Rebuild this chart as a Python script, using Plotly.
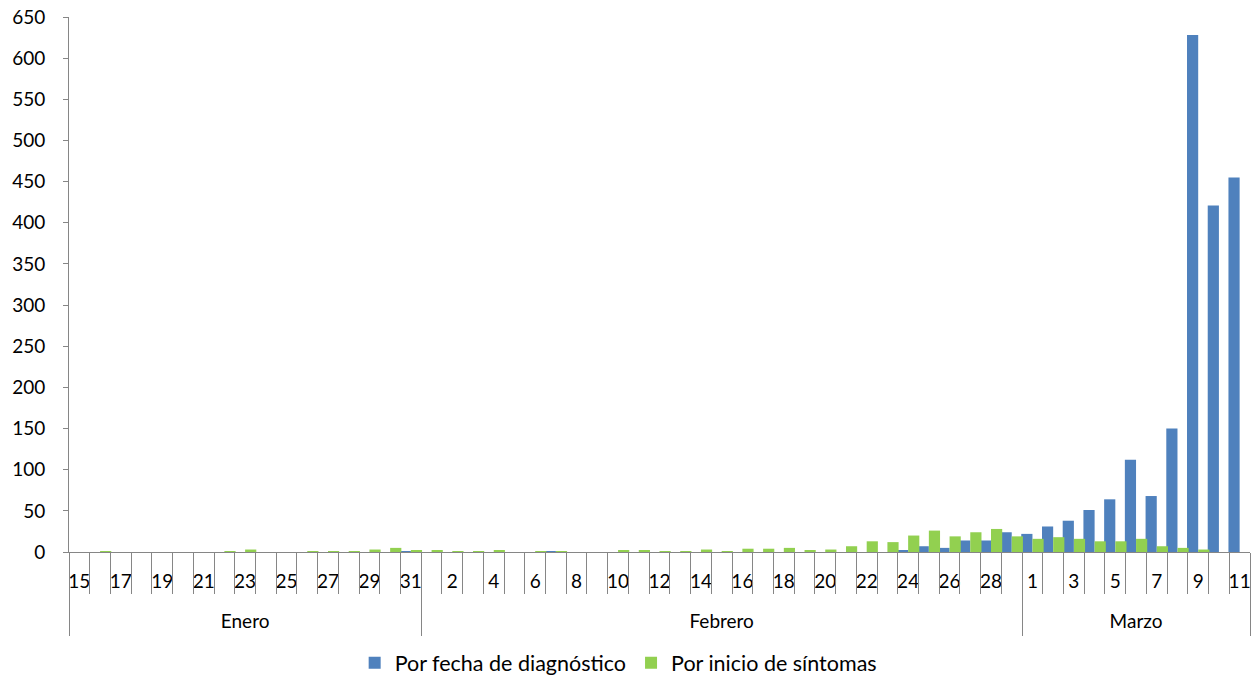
import plotly.graph_objects as go

# ---- data ----
meses = ["Enero", "Febrero", "Marzo"]
dias_enero = [15, 16, 17, 18, 19, 20, 21, 22, 23, 24, 25, 26, 27, 28, 29, 30, 31]
dias_febrero = [1, 2, 3, 4, 5, 6, 7, 8, 9, 10, 11, 12, 13, 14, 15, 16, 17, 18, 19, 20,
                21, 22, 23, 24, 25, 26, 27, 28, 29]
dias_marzo = [1, 2, 3, 4, 5, 6, 7, 8, 9, 10, 11]

# Por fecha de diagnóstico
diag_enero = [0, 0, 0, 0, 0, 0, 0, 0, 0, 0, 0, 0, 0, 0, 0, 0, 1]
diag_febrero = [0, 0, 0, 0, 0, 0, 1, 0, 0, 0, 0, 0, 0, 0, 0, 0, 0, 0, 0, 0,
                0, 0, 0, 2, 7, 5, 14, 14, 24]
diag_marzo = [22, 31, 38, 51, 64, 112, 68, 150, 628, 421, 455]

# Por inicio de síntomas
sint_enero = [0, 1, 0, 0, 0, 0, 0, 1, 3, 0, 0, 1, 1, 1, 3, 5, 2]
sint_febrero = [2, 1, 1, 2, 0, 1, 1, 0, 0, 2, 2, 1, 1, 3, 1, 4, 4, 5, 2, 3,
                7, 13, 12, 20, 26, 19, 24, 28, 19]
sint_marzo = [16, 18, 16, 13, 13, 16, 7, 5, 3, 0, 0]

# ---- build ----
dias_por_mes = [dias_enero, dias_febrero, dias_marzo]
dias = dias_enero + dias_febrero + dias_marzo
diagnostico = diag_enero + diag_febrero + diag_marzo
sintomas = sint_enero + sint_febrero + sint_marzo
x = list(range(len(dias)))
n = len(dias)

# month centres / boundaries from day counts
centros, limites = [], [-0.5]
start = 0
for d in dias_por_mes:
    centros.append(start + (len(d) - 1) / 2)
    start += len(d)
    limites.append(start - 0.5)
bordes = [i - 0.5 for i in range(n + 1)]

AXC = "#868686"
FONT = "Lato"
FS = 19
rng = [-0.5, n - 0.5]

fig = go.Figure()
fig.add_bar(x=x, y=diagnostico, name="Por fecha de diagnóstico",
            marker=dict(color="#4F81BD", line=dict(width=0)),
            width=0.54, offset=-0.54)
fig.add_bar(x=x, y=sintomas, name="Por inicio de síntomas",
            marker=dict(color="#92D050", line=dict(width=0)),
            width=0.54, offset=0.0)

# invisible carriers so the overlay axes (ticks / month labels) get drawn
for ax, xs in (("x2", bordes), ("x3", centros), ("x4", limites)):
    fig.add_scatter(x=xs, y=[0] * len(xs), xaxis=ax, yaxis="y", mode="markers",
                    marker=dict(opacity=0, size=1), showlegend=False,
                    hoverinfo="skip")

fig.update_layout(
    width=1255, height=677,
    margin=dict(l=69, r=5, t=17, b=125, autoexpand=False),
    paper_bgcolor="white", plot_bgcolor="white",
    barmode="overlay",
    font=dict(family=FONT, size=FS, color="black"),
    showlegend=True,
    legend=dict(orientation="h", x=0.465, xanchor="center", y=-0.207, yanchor="middle",
                font=dict(size=21.5), itemwidth=30, traceorder="normal"),
    xaxis=dict(range=rng, tickmode="array", tickvals=x[::2],
               ticktext=[str(d) for d in dias][::2],
               ticks="outside", ticklen=12, tickcolor="rgba(0,0,0,0)",
               showline=True, linecolor=AXC, linewidth=1, automargin=False,
               showgrid=False, zeroline=False, tickfont=dict(size=FS)),
    xaxis2=dict(range=rng, overlaying="x", anchor="y", side="bottom",
                tickmode="array", tickvals=bordes, automargin=False,
                ticks="outside", ticklen=41, tickcolor=AXC, tickwidth=1,
                showticklabels=False, showline=False, showgrid=False, zeroline=False),
    xaxis3=dict(range=rng, overlaying="x", anchor="y", side="bottom",
                tickmode="array", tickvals=centros, ticktext=meses, automargin=False,
                ticks="outside", ticklen=52, tickcolor="rgba(0,0,0,0)",
                showline=False, showgrid=False, zeroline=False, tickfont=dict(size=FS)),
    xaxis4=dict(range=rng, overlaying="x", anchor="y", side="bottom",
                tickmode="array", tickvals=limites, automargin=False,
                ticks="outside", ticklen=83, tickcolor=AXC, tickwidth=1,
                showticklabels=False, showline=False, showgrid=False, zeroline=False),
    yaxis=dict(range=[0, 650], dtick=50, tick0=0, showline=True, linecolor=AXC,
               linewidth=1, ticks="outside", ticklen=5, tickcolor=AXC, automargin=False,
               showgrid=False, zeroline=False, ticklabelstandoff=14,
               tickfont=dict(size=FS)),
)

fig.write_html("out.html", config={"displayModeBar": False},
               post_script="document.body.style.margin='0';document.body.style.padding='0';")
